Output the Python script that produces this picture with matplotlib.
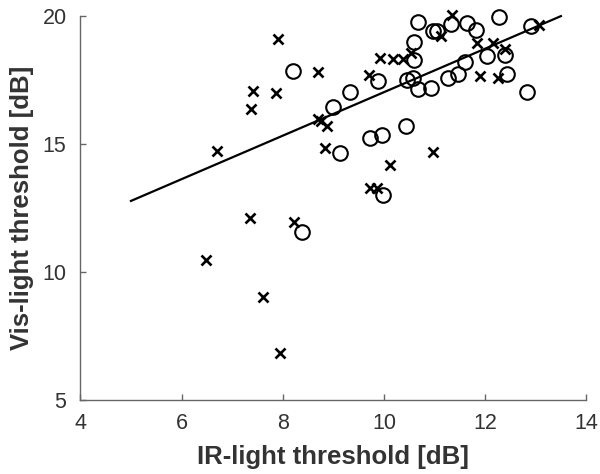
import matplotlib
matplotlib.use("Agg")
import matplotlib.pyplot as plt

plt.rcParams['font.family'] = ['Liberation Sans', 'DejaVu Sans']

# crosses
cross_ir = [6.71, 7.42, 7.38, 7.91, 7.86, 8.69, 8.70, 8.75, 8.88, 8.83,
            9.70, 9.92, 10.18, 10.38, 10.54, 11.12, 11.34, 11.84, 12.16, 12.39,
            11.90, 12.26, 13.07, 10.13, 9.73, 9.87, 10.97, 7.36, 8.23, 6.48,
            7.62, 7.95]
cross_vis = [14.74, 17.08, 16.37, 19.09, 17.00, 17.83, 15.98, 15.90, 15.70, 14.83,
             17.70, 18.35, 18.31, 18.31, 18.54, 19.22, 20.04, 18.96, 18.96, 18.70,
             17.66, 17.57, 19.65, 14.18, 13.27, 13.27, 14.70, 12.10, 11.96, 10.47,
             9.01, 6.85]

# circles
circ_ir = [8.20, 9.00, 9.33, 9.89, 9.13, 9.72, 9.97, 10.43, 9.99, 8.38,
           10.46, 10.57, 10.67, 10.93, 11.27, 11.46, 10.60, 10.60, 10.68, 10.97,
           11.06, 11.33, 11.64, 11.83, 12.27, 12.91, 12.04, 12.39, 11.61, 12.43,
           12.82]
circ_vis = [17.86, 16.46, 17.04, 17.47, 14.66, 15.24, 15.35, 15.69, 13.01, 11.57,
            17.50, 17.60, 17.16, 17.18, 17.60, 17.73, 18.28, 18.98, 19.76, 19.41,
            19.41, 19.69, 19.74, 19.45, 19.95, 19.63, 18.46, 18.48, 18.20, 17.73,
            17.04]

# regression line
fit_ir = [5.0, 13.5]
fit_vis = [12.78, 20.0]

fig = plt.figure(figsize=(6, 4.74), dpi=100)
ax = fig.add_axes([0.134, 0.156, 0.843, 0.81])

ax.plot(fit_ir, fit_vis, color='black', lw=1.6, zorder=2, clip_on=False)
ax.plot(circ_ir, circ_vis, 'o', ms=10.5, mfc='none', mec='black', mew=1.5,
        zorder=3, clip_on=False)
ax.plot(cross_ir, cross_vis, 'x', ms=7.5, mec='black', mew=1.9, zorder=3, clip_on=False)

ax.set_xlim(4, 14)
ax.set_ylim(5, 20)
ax.set_xticks([4, 6, 8, 10, 12, 14])
ax.set_yticks([5, 10, 15, 20])

for s in ['top', 'right']:
    ax.spines[s].set_visible(False)
for s in ['left', 'bottom']:
    ax.spines[s].set_color('#666666')
    ax.spines[s].set_linewidth(1.0)

ax.tick_params(direction='in', length=4, width=1, color='#666666',
               labelsize=15.5, labelcolor='#333333')
ax.tick_params(axis='x', pad=9)
ax.tick_params(axis='y', pad=10)
ax.set_xlabel('IR-light threshold [dB]', fontsize=18.5, fontweight='bold',
              color='#333333', labelpad=8)
ax.set_ylabel('Vis-light threshold [dB]', fontsize=18.5, fontweight='bold',
              color='#333333', labelpad=6)

fig.savefig('out.png', dpi=100)
